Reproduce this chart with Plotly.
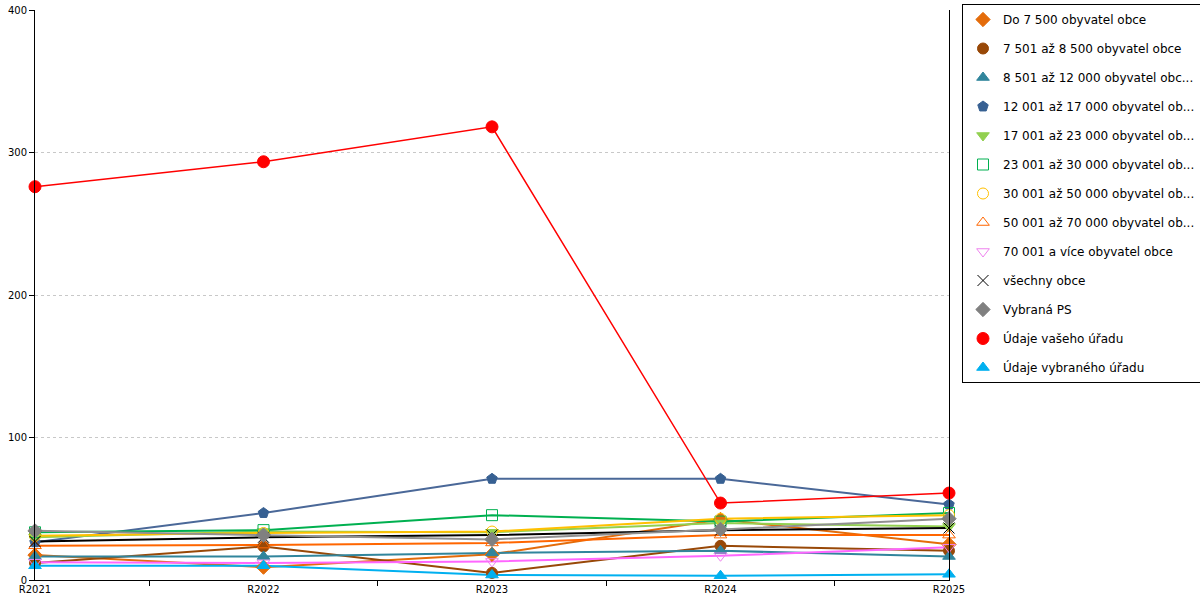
import plotly.graph_objects as go

years = ['R2021', 'R2022', 'R2023', 'R2024', 'R2025']

names = [
    'Do 7 500 obyvatel obce',
    '7 501 až 8 500 obyvatel obce',
    '8 501 až 12 000 obyvatel obc...',
    '12 001 až 17 000 obyvatel ob...',
    '17 001 až 23 000 obyvatel ob...',
    '23 001 až 30 000 obyvatel ob...',
    '30 001 až 50 000 obyvatel ob...',
    '50 001 až 70 000 obyvatel ob...',
    '70 001 a více obyvatel obce',
    'všechny obce',
    'Vybraná PS',
    'Údaje vašeho úřadu',
    'Údaje vybraného úřadu',
]

do_7500 = [17.5, 9.0, 18.0, 42.5, 25.0]
do_8500 = [12.0, 23.5, 5.0, 24.0, 20.5]
do_12000 = [16.5, 16.5, 19.0, 20.5, 16.5]
do_17000 = [26.5, 47.0, 71.0, 71.0, 53.0]
do_23000 = [30.0, 34.0, 33.5, 40.0, 37.5]
do_30000 = [33.5, 35.0, 45.5, 41.0, 47.0]
do_50000 = [31.0, 33.0, 34.0, 43.0, 45.5]
do_70000 = [24.0, 24.5, 26.0, 31.5, 31.5]
nad_70000 = [12.5, 12.0, 13.0, 17.0, 23.0]
vsechny = [27.0, 30.0, 31.5, 35.0, 36.5]
vybrana_ps = [34.5, 31.5, 28.5, 35.5, 43.0]
vas_urad = [276.0, 293.5, 318.0, 54.0, 61.0]
vybrany_urad = [10.0, 10.0, 3.5, 3.0, 4.0]

series = [do_7500, do_8500, do_12000, do_17000, do_23000, do_30000, do_50000,
          do_70000, nad_70000, vsechny, vybrana_ps, vas_urad, vybrany_urad]

line_colors = ['#E46C0A', '#984807', '#31859C', '#4A6898', '#92D050', '#00B050', '#FFC000',
               '#FF6600', '#FF66FF', '#000000', '#909090', '#FF0000', '#00B0F0']
marker_colors = ['#E46C0A', '#984807', '#31859C', '#376092', '#92D050', '#00B050', '#FFC000',
                 '#FF6600', '#EE82EE', '#000000', '#808080', '#FF0000', '#00B0F0']
symbols = ['diamond', 'circle', 'triangle-up', 'pentagon', 'triangle-down', 'square-open',
           'circle-open', 'triangle-up-open', 'triangle-down-open', 'x-thin-open', 'diamond',
           'circle', 'triangle-up']

x = list(range(len(years)))
fig = go.Figure()

# lines first, markers on top (legend shows markers only)
for i, vals in enumerate(series):
    fig.add_trace(go.Scatter(x=x, y=vals, mode='lines', showlegend=False, hoverinfo='skip',
                             line=dict(color=line_colors[i], width=1.5 if i == 11 else 2),
                             cliponaxis=False))
for i, vals in enumerate(series):
    fig.add_trace(go.Scatter(x=x, y=vals, mode='markers', name=names[i], legendgroup=str(i),
                             marker=dict(symbol=symbols[i], size=12 if i == 11 else 11,
                                         color=marker_colors[i],
                                         line=dict(color=marker_colors[i], width=1)),
                             cliponaxis=False))

fig.update_layout(
    width=1200, height=600,
    margin=dict(l=35, r=251, t=10, b=20, autoexpand=False),
    plot_bgcolor='white', paper_bgcolor='white',
    font=dict(family='DejaVu Sans, Verdana, sans-serif', size=10, color='black'),
    legend=dict(x=(962 - 35) / 914, y=1 + 6 / 570, xanchor='left', yanchor='top',
                bordercolor='black', borderwidth=1, bgcolor='white', tracegroupgap=10,
                itemwidth=30, maxheight=600, font=dict(size=12)),
)
fig.update_xaxes(range=[0, 4], tickvals=x, ticktext=years, showgrid=False, zeroline=False,
                 showline=True, linecolor='black', linewidth=1, ticks='', automargin=False,
                 minor=dict(tickvals=[0.5, 1.5, 2.5, 3.5], ticks='outside', ticklen=5,
                            tickcolor='black', showgrid=False))
fig.update_yaxes(range=[0, 400], tickvals=[0, 100, 200, 300, 400], showgrid=True,
                 gridcolor='#C8C8C8', griddash='dot', zeroline=False, showline=True,
                 linecolor='black', linewidth=1, mirror=True, ticks='outside', ticklen=5,
                 tickcolor='black', automargin=False)

# page body has a default 8px margin; remove it so the figure sits at 0,0
fig.write_html('out.html', config={'displayModeBar': False},
               post_script="document.body.style.margin='0px';")
